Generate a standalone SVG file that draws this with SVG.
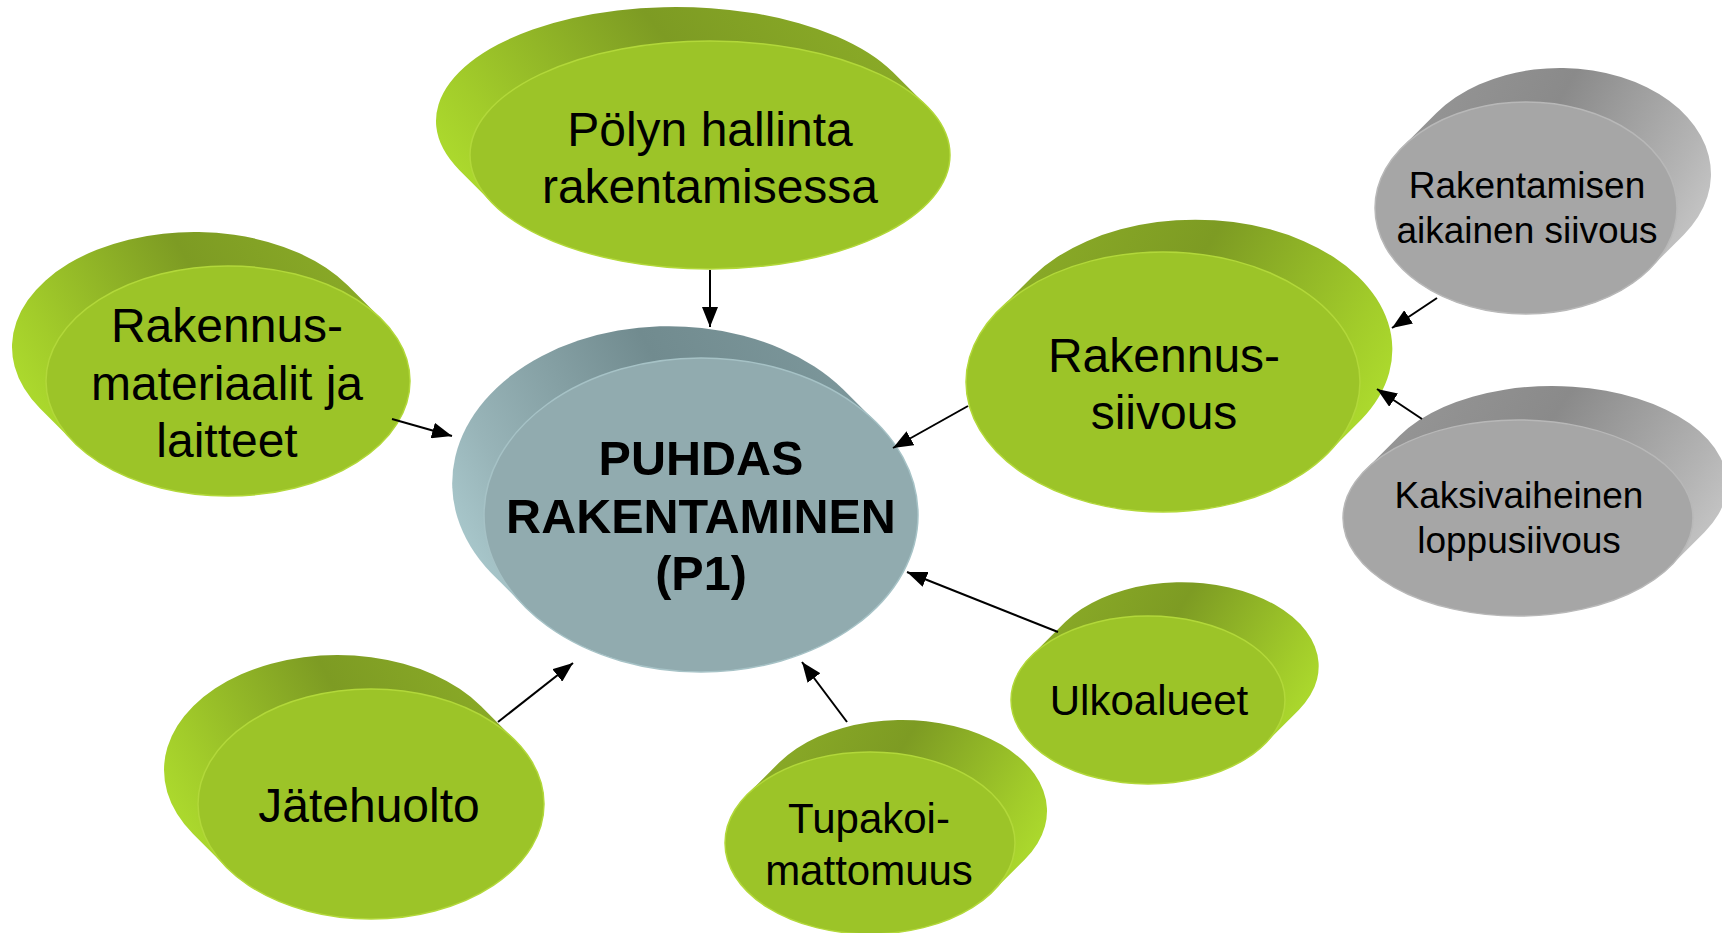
<svg xmlns="http://www.w3.org/2000/svg" width="1722" height="933" viewBox="0 0 1722 933">
<style>
.t{font-family:"Liberation Sans",Arial,sans-serif;font-size:48px;fill:#000;text-anchor:middle}
.b{font-weight:bold;font-size:48.5px}
.m{font-size:42px}
.s{font-size:37px}
.gf{fill:#9cc428;stroke:#b2d83a;stroke-width:1.5}
.cf{fill:#91abaf;stroke:#a6c2c6;stroke-width:1.5}
.yf{fill:#a6a6a6;stroke:#b8b8b8;stroke-width:1.5}
.con line{stroke:#000;stroke-width:2;marker-end:url(#ah)}
</style>
<defs>
<linearGradient id="gL" x1="0" y1="0.6" x2="1" y2="0.2">
<stop offset="0" stop-color="#aedc2e"/><stop offset="0.15" stop-color="#a2cc2a"/><stop offset="0.55" stop-color="#7d9b23"/><stop offset="1" stop-color="#8dae28"/>
</linearGradient>
<linearGradient id="gR" x1="1" y1="0.6" x2="0" y2="0.2">
<stop offset="0" stop-color="#aedc2e"/><stop offset="0.15" stop-color="#a2cc2a"/><stop offset="0.55" stop-color="#7d9b23"/><stop offset="1" stop-color="#8dae28"/>
</linearGradient>
<linearGradient id="cL" x1="0" y1="0.6" x2="1" y2="0.2">
<stop offset="0" stop-color="#a9c8cc"/><stop offset="0.15" stop-color="#98b4b8"/><stop offset="0.55" stop-color="#718b8f"/><stop offset="1" stop-color="#7f9a9e"/>
</linearGradient>
<linearGradient id="yR" x1="1" y1="0.6" x2="0" y2="0.2">
<stop offset="0" stop-color="#c6c6c6"/><stop offset="0.15" stop-color="#b4b4b4"/><stop offset="0.55" stop-color="#8a8a8a"/><stop offset="1" stop-color="#989898"/>
</linearGradient>
<marker id="ah" viewBox="0 0 20 16" refX="20" refY="8" markerWidth="20" markerHeight="16" markerUnits="userSpaceOnUse" orient="auto">
<path d="M0,0 L20,8 L0,16 Z" fill="#000"/>
</marker>
</defs>

<g id="node-polyn">
<path fill="url(#gL)" d="M493.2,203.9 L459.2,169.9 A240,114 0 0 1 892.8,72.1 L926.8,106.1 A240,114 0 0 1 493.2,203.9 Z"/>
<ellipse class="gf" cx="710" cy="155" rx="240" ry="114"/>
<text class="t" x="710" y="146">Pölyn hallinta</text>
<text class="t" x="710" y="203">rakentamisessa</text>
</g>

<g id="node-center">
<path fill="url(#cL)" d="M525.2,607 L491.2,573 A217,157 0 0 1 842.8,389 L876.8,423 A217,157 0 0 1 525.2,607 Z"/>
<ellipse class="cf" cx="701" cy="515" rx="217" ry="157"/>
<text class="t b" x="701" y="475">PUHDAS</text>
<text class="t b" x="701" y="533">RAKENTAMINEN</text>
<text class="t b" x="701" y="590">(P1)</text>
</g>

<g id="node-materiaalit">
<path fill="url(#gL)" d="M74.1,442.4 L40.1,408.4 A182,115 0 0 1 347.9,285.6 L381.9,319.6 A182,115 0 0 1 74.1,442.4 Z"/>
<ellipse class="gf" cx="228" cy="381" rx="182" ry="115"/>
<text class="t" x="227" y="342">Rakennus-</text>
<text class="t" x="227" y="400">materiaalit ja</text>
<text class="t" x="227" y="457">laitteet</text>
</g>

<g id="node-jatehuolto">
<path fill="url(#gL)" d="M226.9,867.7 L192.9,833.7 A173,115 0 0 1 481.1,706.3 L515.1,740.3 A173,115 0 0 1 226.9,867.7 Z"/>
<ellipse class="gf" cx="371" cy="804" rx="173" ry="115"/>
<text class="t" x="369" y="822">Jätehuolto</text>
</g>

<g id="node-siivous">
<path fill="url(#gR)" d="M998.6,310.4 L1032.6,276.4 A197,130 0 0 1 1361.4,419.6 L1327.4,453.6 A197,130 0 0 1 998.6,310.4 Z"/>
<ellipse class="gf" cx="1163" cy="382" rx="197" ry="130"/>
<text class="t" x="1164" y="372">Rakennus-</text>
<text class="t" x="1164" y="429">siivous</text>
</g>

<g id="node-ulkoalueet">
<path fill="url(#gR)" d="M1031.2,656.1 L1065.2,622.1 A137,84 0 0 1 1298.8,709.9 L1264.8,743.9 A137,84 0 0 1 1031.2,656.1 Z"/>
<ellipse class="gf" cx="1148" cy="700" rx="137" ry="84"/>
<text class="t m" x="1149" y="715">Ulkoalueet</text>
</g>

<g id="node-tupakoi">
<path fill="url(#gR)" d="M747.2,794.6 L779.2,762.6 A145,91 0 0 1 1024.8,859.4 L992.8,891.4 A145,91 0 0 1 747.2,794.6 Z"/>
<ellipse class="gf" cx="870" cy="843" rx="145" ry="91"/>
<text class="t m" x="869" y="833">Tupakoi-</text>
<text class="t m" x="869" y="885">mattomuus</text>
</g>

<g id="node-aikainen">
<path fill="url(#yR)" d="M1402.4,147.1 L1436.4,113.1 A151,106 0 0 1 1683.6,234.9 L1649.6,268.9 A151,106 0 0 1 1402.4,147.1 Z"/>
<ellipse class="yf" cx="1526" cy="208" rx="151" ry="106"/>
<text class="t s" x="1527" y="198">Rakentamisen</text>
<text class="t s" x="1527" y="243">aikainen siivous</text>
</g>

<g id="node-kaksivaiheinen">
<path fill="url(#yR)" d="M1365.3,470.1 L1399.3,436.1 A175,98 0 0 1 1704.7,531.9 L1670.7,565.9 A175,98 0 0 1 1365.3,470.1 Z"/>
<ellipse class="yf" cx="1518" cy="518" rx="175" ry="98"/>
<text class="t s" x="1519" y="508">Kaksivaiheinen</text>
<text class="t s" x="1519" y="553">loppusiivous</text>
</g>

<g id="connectors" class="con">
<line x1="710" y1="270" x2="710" y2="327"/>
<line x1="392" y1="419" x2="452" y2="436"/>
<line x1="968" y1="406" x2="893" y2="448"/>
<line x1="1437" y1="298" x2="1392" y2="328"/>
<line x1="1422" y1="419" x2="1377" y2="389"/>
<line x1="1058" y1="632" x2="907" y2="572"/>
<line x1="847" y1="722" x2="802" y2="662"/>
<line x1="498" y1="722" x2="573" y2="663"/>
</g>
</svg>
